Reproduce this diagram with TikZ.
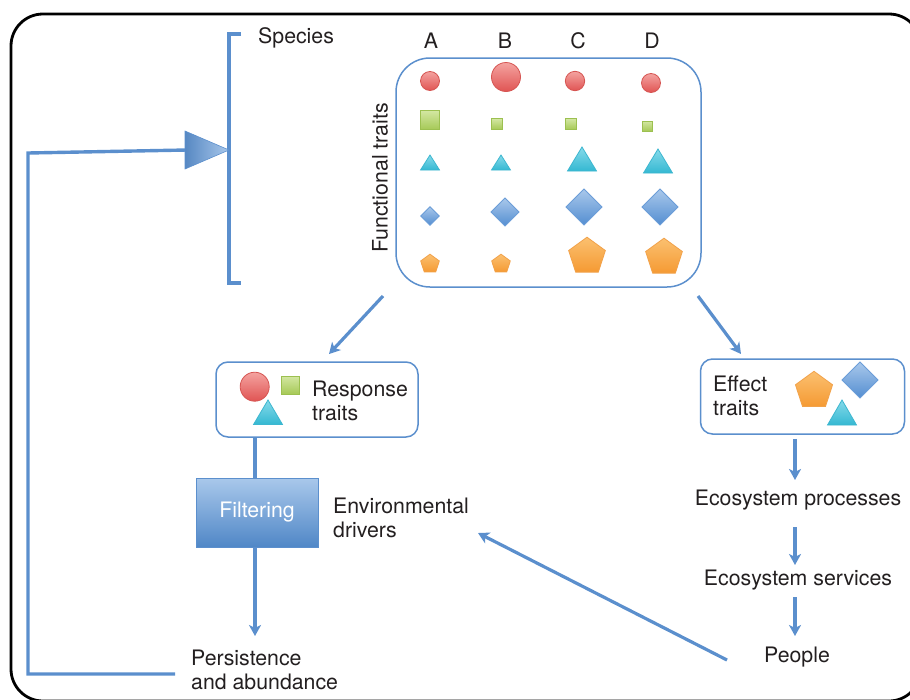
\documentclass[tikz,border=0pt]{standalone}
\usepackage{fontspec}
\setmainfont{TeX Gyre Heros}
\usetikzlibrary{arrows.meta,calc}
\definecolor{bl}{HTML}{5B8FCD}
\definecolor{txt}{HTML}{231F20}
\definecolor{redT}{HTML}{F4A3A0}\definecolor{redB}{HTML}{E05453}\definecolor{redD}{HTML}{D65552}
\definecolor{grnT}{HTML}{D3E7A2}\definecolor{grnB}{HTML}{A6C957}\definecolor{grnD}{HTML}{9CC050}
\definecolor{cyT}{HTML}{86DAEA}\definecolor{cyB}{HTML}{34B8D2}\definecolor{cyD}{HTML}{3DB7D0}
\definecolor{diT}{HTML}{A9C8EB}\definecolor{diB}{HTML}{548ED1}\definecolor{diD}{HTML}{6B9DD8}
\definecolor{orT}{HTML}{FBC070}\definecolor{orB}{HTML}{F59A33}\definecolor{orD}{HTML}{F2A24A}
\newcommand\mycirc[4]{\draw[draw=redD,line width=0.8,top color=redT,bottom color=redB] (#1,#2) circle[radius=#3];}
\newcommand\mysq[3]{\draw[draw=grnD,line width=0.8,top color=grnT,bottom color=grnB] ($(#1,#2)+(-#3,-#3)$) rectangle ($(#1,#2)+(#3,#3)$);}
\newcommand\mytri[4]{\draw[draw=cyD,line width=0.8,top color=cyT,bottom color=cyB] (#1,#2) -- ($(#1,#3)+(#4,0)$) -- ($(#1,#3)+(-#4,0)$) -- cycle;}
\newcommand\mydia[3]{\draw[draw=diD,line width=0.8,top color=diT,bottom color=diB] ($(#1,#2)+(0,-#3)$) -- ($(#1,#2)+(#3,0)$) -- ($(#1,#2)+(0,#3)$) -- ($(#1,#2)+(-#3,0)$) -- cycle;}
\newcommand\mypent[3]{\begin{scope}[shift={(#1,#2)}]\draw[draw=orD,line width=0.8,top color=orT,bottom color=orB] (-90:#3) -- (-18:#3) -- (54:#3) -- (126:#3) -- (198:#3) -- cycle;\end{scope}}
\begin{document}
\begin{tikzpicture}[x=1pt,y=-1pt,
  lbl/.style={inner sep=0pt,text=txt,font=\fontsize{21.3}{24}\selectfont,align=left},
  bline/.style={draw=bl,line width=3.4pt},
  arr/.style={draw=bl,line width=3.2pt,-{Stealth[length=11pt,width=12pt,inset=3pt]}},
  tbox/.style={draw=bl,line width=1.5pt,fill=white,inner sep=0pt}]
\useasboundingbox (0,0) rectangle (910,699);
\clip (0,0) rectangle (910,699);
% outer frame
\draw[line width=2.8pt,rounded corners=32pt] (11,14) rectangle (921,701);
% species bracket
\node[lbl,anchor=west] (species) at (258,38) {Species};
\draw[bline] (241,34) -- (229,34) -- (229,283) -- (241,283);
% column labels
\node[lbl] (cA) at (431,41) {A};
\node[lbl] (cB) at (505,41) {B};
\node[lbl] (cC) at (578,41) {C};
\node[lbl] (cD) at (652,41) {D};
% functional traits box
\node[tbox,rounded corners=34pt,minimum width=305pt,minimum height=229pt] (ftbox) at (548.5,172.5) {};
\node[lbl,rotate=90] (ft) at (380,178) {Functional traits};
% row 1 circles
\mycirc{430}{81}{9.5}{}
\mycirc{506}{77}{14.5}{}
\mycirc{575}{81}{9.7}{}
\mycirc{651}{83}{9.5}{}
% row 2 squares
\mysq{430}{120}{9.5}
\mysq{497}{124}{5.3}
\mysq{571}{124}{5.3}
\mysq{647}{126}{5}
% row 3 triangles
\mytri{430}{155}{170}{9.5}
\mytri{501}{155}{170}{9.5}
\mytri{582}{147}{171}{14.5}
\mytri{658}{149}{173}{14.5}
% row 4 diamonds
\mydia{430}{216}{9.3}
\mydia{505}{212}{14}
\mydia{584}{207}{18}
\mydia{660}{207}{18}
% row 5 pentagons
\mypent{430}{264}{9.8}
\mypent{501}{264}{9.8}
\mypent{587}{256.5}{19.3}
\mypent{664}{257.5}{19.3}
% response traits box
\node[tbox,rounded corners=12pt,minimum width=202pt,minimum height=75pt] (resp) at (317,399.5) {};
\mycirc{254.7}{386.7}{14.5}{}
\mysq{290}{385}{9}
\mytri{268}{400}{424.5}{14.5}
\node[lbl,anchor=west] (resptext) at (312,400.5) {Response\\traits};
% effect traits box
\node[tbox,rounded corners=12pt,minimum width=204pt,minimum height=75pt] (effect) at (802.5,396.5) {};
\node[lbl,anchor=west] (efftext) at (713,396) {Effect\\traits};
\mypent{814}{390.8}{19.5}
\mydia{860}{380}{18}
\mytri{842}{400}{425}{14.5}
% filtering
\node[draw=bl,line width=0.8pt,top color=diT,bottom color=diB!95!black,minimum width=122pt,minimum height=69pt,inner sep=0pt,
  text=white,font=\fontsize{21.3}{24}\selectfont] (filter) at (257,512.5) {Filtering};
\node[lbl,anchor=west] (env) at (333,518) {Environmental\\drivers};
\node[lbl,anchor=west] (pers) at (191,669.5) {Persistence\\and abundance};
% right chain
\node[lbl] (eproc) at (798,500) {Ecosystem processes};
\node[lbl] (eserv) at (798,580) {Ecosystem services};
\node[lbl] (people) at (797,657) {People};
% connectors
\coordinate (a1s) at (383,296); \coordinate (a1e) at (329,354);
\draw[arr] (a1s) -- (a1e);
\coordinate (a2s) at (698,296); \coordinate (a2e) at (741,354);
\draw[arr] (a2s) -- (a2e);
\draw[bline] (resp.south -| 255,0) -- (filter.north -| 255,0);
\coordinate (p1) at (255,636);
\draw[arr] (filter.south -| 255,0) -- (p1);
\coordinate (fb1) at (175,674); \coordinate (fb2) at (28,674); \coordinate (fb3) at (28,153); \coordinate (fb4) at (187,150);
\draw[bline] (fb1) -- (fb2) -- (fb3) -- (fb4);
\draw[bl,line width=0.6pt,left color=bl!95!black,right color=diT] (185,131) -- (229,150) -- (185,169) -- cycle;
\coordinate (pe1) at (727,660); \coordinate (pe2) at (478,533);
\draw[arr] (pe1) -- (pe2);
\draw[arr] (effect.south -| 795,0) ++(0,4) -- (795,480);
\draw[arr] (795,527) -- (795,565);
\draw[arr] (795,597) -- (795,636);
\end{tikzpicture}
\end{document}
